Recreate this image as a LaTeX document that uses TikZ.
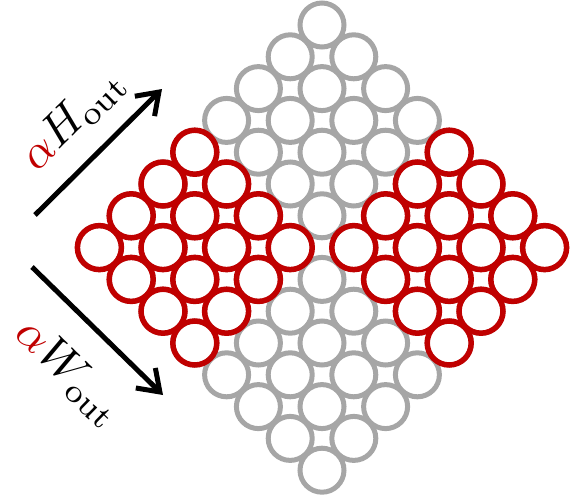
\documentclass[tikz,border=0pt]{standalone}
\usetikzlibrary{arrows.meta}
\definecolor{cellgray}{HTML}{A6A6A6}
\definecolor{cellred}{HTML}{C00000}
\tikzset{
	cell/.style={circle, draw=cellgray, line width=5pt, minimum size=44pt, inner sep=0pt},
	hotcell/.style={cell, draw=cellred, line width=5.5pt},
	dimarrow/.style={line width=5pt, -{Straight Barb[length=20pt, width=28pt]}},
	dimlabel/.style={inner sep=0pt, scale=4.7},
}
\begin{document}
\begin{tikzpicture}[x=1pt, y=-1pt]
	\useasboundingbox (0,0) rectangle (581,498);
	\foreach \i in {0,...,7}
		\foreach \j in {0,...,7}
			\node[cell] (g-\i-\j) at ({322+(\i-\j)*31.8}, {25+(\i+\j)*31.8}) {};
	\foreach \i in {0,...,3}
		\foreach \j in {4,...,7}
			\node[hotcell] (l-\i-\j) at ({322+(\i-\j)*31.8}, {25+(\i+\j)*31.8}) {};
	\foreach \i in {4,...,7}
		\foreach \j in {0,...,3}
			\node[hotcell] (r-\i-\j) at ({322+(\i-\j)*31.8}, {25+(\i+\j)*31.8}) {};
	\coordinate (h0) at (35,215);
	\coordinate (h1) at (162,89);
	\coordinate (w0) at (32,267);
	\coordinate (w1) at (163,395);
	\draw[dimarrow] (h0) -- (h1) node[pos=0.53, sloped, above=10pt, dimlabel] {$\textcolor{cellred}{\alpha}H_{\mathrm{out}}$};
	\draw[dimarrow] (w0) -- (w1) node[pos=0.55, sloped, below=18pt, dimlabel] {$\textcolor{cellred}{\alpha}W_{\mathrm{out}}$};
\end{tikzpicture}
\end{document}
